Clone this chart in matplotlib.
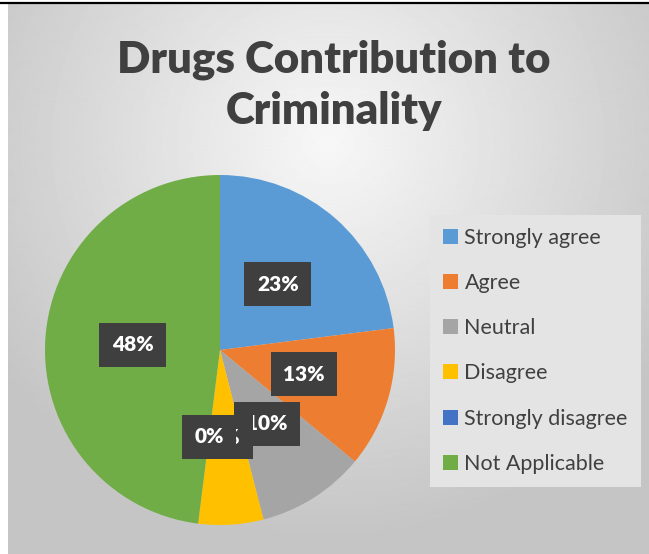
import numpy as np
import matplotlib.pyplot as plt
from matplotlib.patches import Patch

# chart data
categories = ['Strongly agree', 'Agree', 'Neutral', 'Disagree', 'Strongly disagree', 'Not Applicable']
values = [23, 13, 10, 6, 0, 48]
colors = ['#5B9BD5', '#ED7D31', '#A5A5A5', '#FFC000', '#4472C4', '#70AD47']
title = 'Drugs Contribution to\nCriminality'

W, H = 649, 554
fig = plt.figure(figsize=(W / 100, H / 100), dpi=100)

# radial grey background like the office chart area
bg = fig.add_axes([8 / W, 0, 1 - 8 / W, 1 - 4 / H])
yy, xx = np.mgrid[0:H, 0:W - 8]
d = np.sqrt(((xx - 320) / 420.0) ** 2 + ((yy - 140) / 420.0) ** 2)
shade = np.clip(0.97 - 0.21 * d, 0.77, 0.97)
bg.imshow(shade, cmap='gray', vmin=0, vmax=1, aspect='auto', interpolation='bilinear')
bg.axis('off')

# thin black line across the top
fig.add_artist(plt.Line2D([0, 1], [1 - 2.5 / H, 1 - 2.5 / H], color='black', lw=1.6,
                          transform=fig.transFigure))

fig.text(334 / W, 1 - 85 / H, title, ha='center', va='center', fontsize=31.5,
         fontweight='heavy', family='Lato', color='#404040', linespacing=1.32)

# pie area
cx, cy, r = 220, 350, 175
ax = fig.add_axes([(cx - r) / W, (H - cy - r) / H, 2 * r / W, 2 * r / H])
wedges, texts, autotexts = ax.pie(values, colors=colors, startangle=90, counterclock=False,
                                  autopct='%d%%', pctdistance=0.5, radius=1,
                                  wedgeprops=dict(linewidth=0))
for t in autotexts:
    t.set_color('white')
    t.set_family('Lato')
    t.set_fontsize(15)
    t.set_fontweight('heavy')
    t.set_bbox(dict(boxstyle='square,pad=0.6', facecolor='#3f3f3f', edgecolor='none'))
ax.set_xlim(-1, 1)
ax.set_ylim(-1, 1)
ax.set_aspect('equal')
ax.axis('off')

handles = [Patch(facecolor=c, edgecolor='none') for c in colors]
leg = fig.legend(handles, categories, loc='upper left',
                 bbox_to_anchor=(430 / W, 1 - 215 / H), frameon=True,
                 prop={'family': 'Lato', 'size': 15.5}, labelspacing=1.17,
                 handlelength=0.7, handleheight=0.7, handletextpad=0.3,
                 borderpad=0.6, borderaxespad=0, fancybox=False)
leg.get_frame().set_facecolor('#e4e4e4')
leg.get_frame().set_edgecolor('none')
leg.get_frame().set_alpha(1)
for t in leg.get_texts():
    t.set_color('#404040')

fig.savefig('out.png', dpi=100)
